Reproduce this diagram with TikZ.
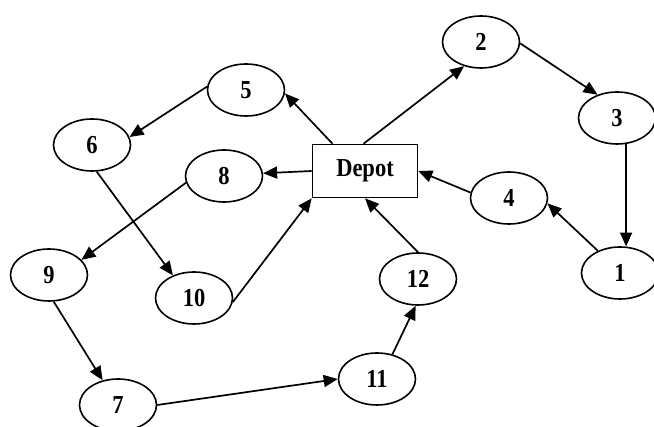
\documentclass[tikz,border=0pt]{standalone}
\usepackage{fontspec}
\setmainfont{Liberation Serif}
\usetikzlibrary{arrows.meta,shapes.geometric}
% tall bold label text
\newcommand\stoplabel[1]{\scalebox{1}[1.15]{#1}}
\begin{document}
\begin{tikzpicture}[x=1pt,y=-1pt,
  stop/.style={ellipse,draw,line width=1.6pt,minimum width=77pt,minimum height=52pt,inner sep=0pt,
    font=\fontsize{22.5}{24}\selectfont\bfseries},
  depotbox/.style={rectangle,draw,line width=1.6pt,minimum width=105pt,minimum height=53pt,inner sep=0pt,
    font=\fontsize{22.5}{24}\selectfont\bfseries},
  route/.style={line width=1.7pt,-{Triangle[length=14pt,width=12pt]}}]
\useasboundingbox (0,0) rectangle (654,427);
% depot and customer stops
\node[depotbox] (depot) at (365,171) {\stoplabel{Depot}};
\node[stop] (n1)  at (620,273) {\stoplabel{1}};
\node[stop] (n2)  at (481,42)  {\stoplabel{2}};
\node[stop] (n3)  at (617,118) {\stoplabel{3}};
\node[stop] (n4)  at (509,198) {\stoplabel{4}};
\node[stop] (n5)  at (246,90)  {\stoplabel{5}};
\node[stop] (n6)  at (92,145)  {\stoplabel{6}};
\node[stop] (n7)  at (118,405) {\stoplabel{7}};
\node[stop] (n8)  at (224,176) {\stoplabel{8}};
\node[stop] (n9)  at (49,275)  {\stoplabel{9}};
\node[stop] (n10) at (194,298) {\stoplabel{10}};
\node[stop] (n11) at (377,379) {\stoplabel{11}};
\node[stop] (n12) at (418,279) {\stoplabel{12}};
% first route: depot - 2 - 3 - 1 - 4 - depot
\draw[route] (depot.93) -- (n2.-125);
\draw[route] (n2.-2) -- (n3.130);
\draw[route] (n3.-71) -- (n1.77);
\draw[route] (n1.135) -- (n4.-8);
\draw[route] (n4.172) -- (depot.east);
% second route: depot - 5 - 6 - 10 - depot
\draw[route] (depot.140) -- (n5.-5);
\draw[route] (n5.175) -- (n6.12);
\draw[route] (n6.-80) -- (n10.133);
\draw[route] (n10.-6) -- (depot.south west);
% third route: depot - 8 - 9 - 7 - 11 - 12 - depot
\draw[route] (depot.west) -- (n8.4);
\draw[route] (n8.190) -- (n9.25);
\draw[route] (n9.-80) -- (n7.122);
\draw[route] (n7.east) -- (n11.west);
\draw[route] (n11.58) -- (n12.-95);
\draw[route] (n12.north) -- (depot.south);
\end{tikzpicture}
\end{document}
